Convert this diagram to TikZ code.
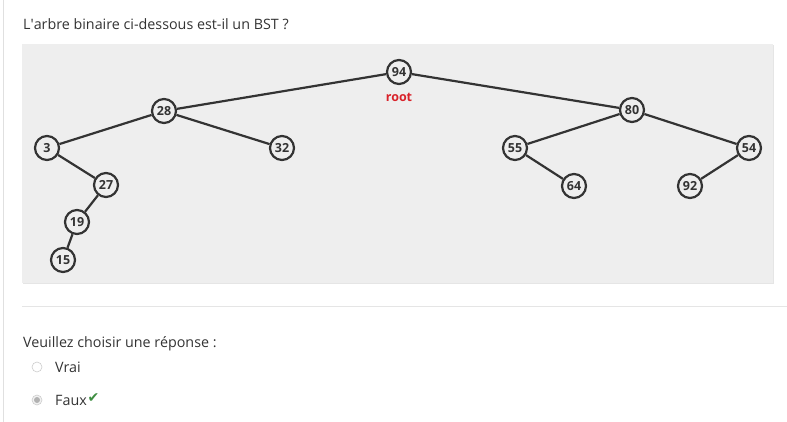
\documentclass[tikz,border=0pt]{standalone}
\usepackage{fontspec}
\setmainfont{Open Sans}
\newfontfamily\symfont{DejaVu Sans}
\definecolor{panel}{HTML}{EEEEEE}
\definecolor{edgec}{HTML}{333333}
\definecolor{txt}{HTML}{333333}
\definecolor{rootred}{HTML}{D9222A}
\definecolor{checkg}{HTML}{3E8E41}
\begin{document}
\begin{tikzpicture}[x=1pt,y=-1pt,
  tnode/.style={circle,draw=edgec,line width=2.2pt,fill=panel,minimum size=24pt,inner sep=0pt,font=\fontsize{12.5}{14}\selectfont\bfseries,text=txt},
  tedge/.style={draw=edgec,line width=2.2pt},
  qtext/.style={anchor=base west,font=\fontsize{14.3}{16}\selectfont,text=txt,inner sep=0pt},
  radio/.style={circle,draw=black!20,fill=white,minimum size=10pt,inner sep=0pt,line width=0.6pt}]
\useasboundingbox (0,0) rectangle (787,422);
\fill[white] (0,0) rectangle (787,422);
\draw[black!12,line width=1pt] (3,0) -- (3,422);
% question
\node[qtext] (q) at (23,30) {L\textquotesingle arbre binaire ci-dessous est-il un BST ?};
% panel
\fill[black!10] (23,45) rectangle (774,284);
\fill[panel] (22,44) rectangle (773,283);
% nodes
\node[tnode] (n94) at (399,72) {94};
\node[font=\fontsize{12.5}{14}\selectfont\bfseries,text=rootred,inner sep=0pt] (root) at (399,97) {root};
\node[tnode] (n28) at (164,111) {28};
\node[tnode] (n80) at (632,110) {80};
\node[tnode] (n3) at (47,148) {3};
\node[tnode] (n32) at (282,148) {32};
\node[tnode] (n55) at (515,148) {55};
\node[tnode] (n54) at (749,148) {54};
\node[tnode] (n27) at (106,185) {27};
\node[tnode] (n64) at (574,186) {64};
\node[tnode] (n92) at (690,186) {92};
\node[tnode] (n19) at (77,222) {19};
\node[tnode] (n15) at (63,260) {15};
% edges
\draw[tedge] (n94) -- (n28);
\draw[tedge] (n94) -- (n80);
\draw[tedge] (n28) -- (n3);
\draw[tedge] (n28) -- (n32);
\draw[tedge] (n3) -- (n27);
\draw[tedge] (n27) -- (n19);
\draw[tedge] (n19) -- (n15);
\draw[tedge] (n80) -- (n55);
\draw[tedge] (n80) -- (n54);
\draw[tedge] (n55) -- (n64);
\draw[tedge] (n54) -- (n92);
% separator
\draw[black!10,line width=1pt] (22,306) -- (787,306);
% answers
\node[qtext] (choose) at (23,347) {Veuillez choisir une réponse :};
\node[radio] (r1) at (37,367) {};
\node[qtext] (vrai) at (55,372) {Vrai};
\node[radio,fill=black!5] (r2) at (37,400) {};
\fill[black!30] (r2.center) circle (3pt);
\node[qtext] (faux) at (55,405) {Faux};
\node[anchor=base west,inner sep=0pt,font=\symfont\fontsize{14}{15}\selectfont,text=checkg] (chk) at ([xshift=0.5pt,yshift=3pt]faux.base east) {✔};
\end{tikzpicture}
\end{document}
